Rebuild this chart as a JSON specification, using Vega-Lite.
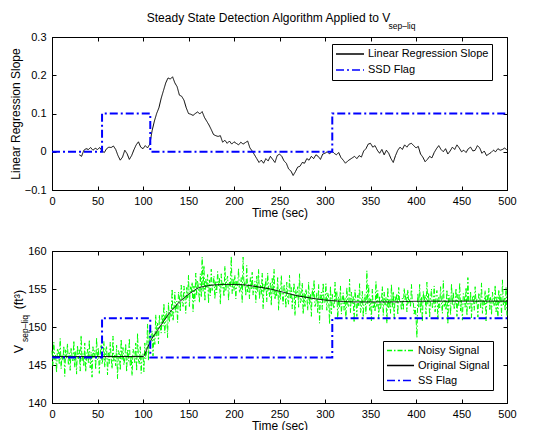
{
"$schema": "https://vega.github.io/schema/vega-lite/v6.json",
"background": "white",
"padding": {"left": 8, "top": 11, "right": 0, "bottom": 0},
"spacing": 25,
"resolve": {"scale": {"color": "independent", "strokeDash": "independent"}, "legend": {"color": "independent", "strokeDash": "independent"}},
"config": {
  "font": "Liberation Sans",
  "view": {"stroke": "black", "strokeWidth": 1},
  "axis": {"labelFont": "Liberation Sans", "labelFontSize": 11, "labelColor": "#000", "tickColor": "#000", "domainColor": "#000", "titleFont": "Liberation Sans", "titleFontSize": 12, "titleFontWeight": "normal", "titleColor": "#000", "grid": false, "tickWidth": 1, "domainWidth": 1},
  "legend": {"labelFont": "Liberation Sans", "labelFontSize": 11, "labelColor": "#000"}
},
"datasets": {
  "ssd": [{"t":0,"v":0},{"t":55,"v":0.1},{"t":108,"v":0},{"t":308,"v":0.1},{"t":500,"v":0.1}],
  "ssflag": [{"t":0,"v":146.0},{"t":55,"v":151.15},{"t":108,"v":146.0},{"t":308,"v":151.15},{"t":500,"v":151.15}],
  "orig": [{"t":0,"v":146.1},{"t":100,"v":146.1},{"t":105,"v":147.3},{"t":110,"v":148.5},{"t":115,"v":149.4},{"t":120,"v":150.3},{"t":125,"v":151.15},{"t":130,"v":152.0},{"t":135,"v":152.65},{"t":140,"v":153.3},{"t":145,"v":153.8},{"t":150,"v":154.3},{"t":155,"v":154.7},{"t":160,"v":155.1},{"t":170,"v":155.4},{"t":180,"v":155.55},{"t":190,"v":155.6},{"t":200,"v":155.6},{"t":210,"v":155.55},{"t":220,"v":155.4},{"t":230,"v":155.2},{"t":240,"v":155.0},{"t":250,"v":154.7},{"t":260,"v":154.4},{"t":270,"v":154.1},{"t":280,"v":153.9},{"t":290,"v":153.7},{"t":300,"v":153.55},{"t":310,"v":153.45},{"t":320,"v":153.35},{"t":340,"v":153.3},{"t":370,"v":153.3},{"t":400,"v":153.38},{"t":450,"v":153.4},{"t":500,"v":153.4}],
  "slope": [{"t":30,"v":-0.008},{"t":32.5,"v":-0.012},{"t":35,"v":0.004},{"t":37.5,"v":0.008},{"t":40,"v":0.006},{"t":42.5,"v":0.011},{"t":45,"v":0.004},{"t":47.5,"v":0.009},{"t":50,"v":0.006},{"t":52.5,"v":0.011},{"t":55,"v":0.002},{"t":57.5,"v":-0.002},{"t":60,"v":0.008},{"t":62.5,"v":0.012},{"t":65,"v":0.011},{"t":67.5,"v":0.015},{"t":70,"v":0.006},{"t":72.5,"v":-0.01},{"t":75,"v":-0.022},{"t":77.5,"v":-0.014},{"t":80,"v":0.004},{"t":82.5,"v":-0.005},{"t":85,"v":-0.02},{"t":87.5,"v":-0.01},{"t":90,"v":0.005},{"t":92.5,"v":0.018},{"t":95,"v":0.026},{"t":97.5,"v":0.012},{"t":100,"v":0.008},{"t":102.5,"v":0.016},{"t":105,"v":0.01},{"t":107.5,"v":0.02},{"t":110,"v":0.055},{"t":112.5,"v":0.08},{"t":115,"v":0.1},{"t":117.5,"v":0.115},{"t":120,"v":0.14},{"t":122.5,"v":0.16},{"t":125,"v":0.18},{"t":127.5,"v":0.193},{"t":130,"v":0.19},{"t":132.5,"v":0.196},{"t":135,"v":0.18},{"t":137.5,"v":0.17},{"t":140,"v":0.148},{"t":142.5,"v":0.145},{"t":145,"v":0.135},{"t":147.5,"v":0.115},{"t":150,"v":0.1},{"t":152.5,"v":0.098},{"t":155,"v":0.095},{"t":157.5,"v":0.1},{"t":160,"v":0.104},{"t":162.5,"v":0.099},{"t":165,"v":0.105},{"t":167.5,"v":0.09},{"t":170,"v":0.08},{"t":172.5,"v":0.07},{"t":175,"v":0.058},{"t":177.5,"v":0.045},{"t":180,"v":0.042},{"t":182.5,"v":0.04},{"t":185,"v":0.042},{"t":187.5,"v":0.025},{"t":190,"v":0.03},{"t":192.5,"v":0.022},{"t":195,"v":0.028},{"t":197.5,"v":0.02},{"t":200,"v":0.026},{"t":202.5,"v":0.022},{"t":205,"v":0.018},{"t":207.5,"v":0.025},{"t":210,"v":0.02},{"t":212.5,"v":0.024},{"t":215,"v":0.028},{"t":217.5,"v":0.01},{"t":220,"v":0.002},{"t":222.5,"v":-0.008},{"t":225,"v":-0.018},{"t":227.5,"v":-0.028},{"t":230,"v":-0.022},{"t":232.5,"v":-0.03},{"t":235,"v":-0.018},{"t":237.5,"v":-0.024},{"t":240,"v":-0.012},{"t":242.5,"v":-0.02},{"t":245,"v":-0.028},{"t":247.5,"v":-0.01},{"t":250,"v":-0.006},{"t":252.5,"v":-0.012},{"t":255,"v":-0.024},{"t":257.5,"v":-0.03},{"t":260,"v":-0.045},{"t":262.5,"v":-0.05},{"t":265,"v":-0.062},{"t":267.5,"v":-0.052},{"t":270,"v":-0.04},{"t":272.5,"v":-0.038},{"t":275,"v":-0.028},{"t":277.5,"v":-0.03},{"t":280,"v":-0.018},{"t":282.5,"v":-0.022},{"t":285,"v":-0.012},{"t":287.5,"v":-0.018},{"t":290,"v":-0.008},{"t":292.5,"v":-0.012},{"t":295,"v":-0.02},{"t":297.5,"v":-0.006},{"t":300,"v":-0.004},{"t":302.5,"v":0.0},{"t":305,"v":-0.006},{"t":307.5,"v":0.002},{"t":310,"v":-0.004},{"t":312.5,"v":-0.008},{"t":315,"v":-0.002},{"t":317.5,"v":-0.015},{"t":320,"v":-0.022},{"t":322.5,"v":-0.03},{"t":325,"v":-0.024},{"t":327.5,"v":-0.02},{"t":330,"v":-0.016},{"t":332.5,"v":-0.012},{"t":335,"v":-0.018},{"t":337.5,"v":-0.01},{"t":340,"v":-0.014},{"t":342.5,"v":0.002},{"t":345,"v":0.008},{"t":347.5,"v":0.02},{"t":350,"v":0.022},{"t":352.5,"v":0.012},{"t":355,"v":0.016},{"t":357.5,"v":0.004},{"t":360,"v":-0.004},{"t":362.5,"v":0.006},{"t":365,"v":-0.008},{"t":367.5,"v":0.004},{"t":370,"v":-0.004},{"t":372.5,"v":-0.018},{"t":375,"v":-0.028},{"t":377.5,"v":-0.01},{"t":380,"v":0.004},{"t":382.5,"v":0.012},{"t":385,"v":0.006},{"t":387.5,"v":0.018},{"t":390,"v":0.012},{"t":392.5,"v":0.02},{"t":395,"v":0.022},{"t":397.5,"v":0.016},{"t":400,"v":0.01},{"t":402.5,"v":0.014},{"t":405,"v":-0.006},{"t":407.5,"v":-0.014},{"t":410,"v":-0.026},{"t":412.5,"v":-0.02},{"t":415,"v":-0.012},{"t":417.5,"v":-0.016},{"t":420,"v":-0.002},{"t":422.5,"v":0.008},{"t":425,"v":0.016},{"t":427.5,"v":0.006},{"t":430,"v":0.0},{"t":432.5,"v":0.008},{"t":435,"v":-0.006},{"t":437.5,"v":0.002},{"t":440,"v":0.012},{"t":442.5,"v":0.006},{"t":445,"v":0.018},{"t":447.5,"v":0.01},{"t":450,"v":0.0},{"t":452.5,"v":0.004},{"t":455,"v":-0.002},{"t":457.5,"v":0.008},{"t":460,"v":0.012},{"t":462.5,"v":0.002},{"t":465,"v":0.004},{"t":467.5,"v":0.016},{"t":470,"v":0.01},{"t":472.5,"v":-0.004},{"t":475,"v":0.002},{"t":477.5,"v":-0.01},{"t":480,"v":-0.006},{"t":482.5,"v":-0.002},{"t":485,"v":0.004},{"t":487.5,"v":0.0},{"t":490,"v":0.008},{"t":492.5,"v":0.004},{"t":495,"v":0.006},{"t":497.5,"v":0.01},{"t":500,"v":0.004}],
  "noisy": [{"t":0,"v":146.9},{"t":1,"v":144.9},{"t":2,"v":148.0},{"t":3,"v":145.7},{"t":4,"v":146.4},{"t":5,"v":144.0},{"t":6,"v":147.2},{"t":7,"v":146.7},{"t":8,"v":145.2},{"t":9,"v":148.5},{"t":10,"v":144.5},{"t":11,"v":146.3},{"t":12,"v":145.6},{"t":13,"v":147.5},{"t":14,"v":143.5},{"t":15,"v":147.0},{"t":16,"v":145.9},{"t":17,"v":147.8},{"t":18,"v":145.0},{"t":19,"v":146.6},{"t":20,"v":144.3},{"t":21,"v":147.3},{"t":22,"v":146.2},{"t":23,"v":145.4},{"t":24,"v":148.2},{"t":25,"v":144.7},{"t":26,"v":146.8},{"t":27,"v":143.8},{"t":28,"v":147.6},{"t":29,"v":145.8},{"t":30,"v":147.0},{"t":31,"v":144.2},{"t":32,"v":148.9},{"t":33,"v":145.5},{"t":34,"v":146.5},{"t":35,"v":144.8},{"t":36,"v":147.9},{"t":37,"v":144.1},{"t":38,"v":146.1},{"t":39,"v":147.1},{"t":40,"v":145.3},{"t":41,"v":148.3},{"t":42,"v":144.6},{"t":43,"v":146.7},{"t":44,"v":143.4},{"t":45,"v":147.4},{"t":46,"v":146.0},{"t":47,"v":146.9},{"t":48,"v":144.4},{"t":49,"v":148.6},{"t":50,"v":145.7},{"t":51,"v":147.2},{"t":52,"v":143.9},{"t":53,"v":146.4},{"t":54,"v":147.7},{"t":55,"v":145.1},{"t":56,"v":145.8},{"t":57,"v":148.1},{"t":58,"v":144.7},{"t":59,"v":146.8},{"t":60,"v":147.5},{"t":61,"v":143.7},{"t":62,"v":146.6},{"t":63,"v":145.2},{"t":64,"v":148.0},{"t":65,"v":145.9},{"t":66,"v":144.5},{"t":67,"v":148.8},{"t":68,"v":145.4},{"t":69,"v":146.3},{"t":70,"v":144.9},{"t":71,"v":147.6},{"t":72,"v":143.2},{"t":73,"v":146.9},{"t":74,"v":146.5},{"t":75,"v":144.3},{"t":76,"v":148.4},{"t":77,"v":145.6},{"t":78,"v":147.3},{"t":79,"v":145.0},{"t":80,"v":145.9},{"t":81,"v":147.8},{"t":82,"v":144.1},{"t":83,"v":147.0},{"t":84,"v":145.5},{"t":85,"v":148.5},{"t":86,"v":144.8},{"t":87,"v":146.2},{"t":88,"v":143.6},{"t":89,"v":147.1},{"t":90,"v":146.7},{"t":91,"v":145.3},{"t":92,"v":147.9},{"t":93,"v":144.2},{"t":94,"v":149.2},{"t":95,"v":145.7},{"t":96,"v":145.1},{"t":97,"v":147.4},{"t":98,"v":143.9},{"t":99,"v":146.5},
{"t":100,"v":146.5},{"t":101,"v":144.1},{"t":102,"v":147.9},{"t":103,"v":145.8},{"t":104,"v":146.7},{"t":105,"v":150.4},{"t":106,"v":145.6},{"t":107,"v":149.6},{"t":108,"v":147.2},{"t":109,"v":148.9},{"t":110,"v":149.5},{"t":111,"v":146.2},{"t":112,"v":149.0},{"t":113,"v":147.7},{"t":114,"v":151.6},{"t":115,"v":148.8},{"t":116,"v":150.5},{"t":117,"v":147.8},{"t":118,"v":151.6},{"t":119,"v":149.9},{"t":120,"v":149.2},{"t":121,"v":151.7},{"t":122,"v":150.1},{"t":123,"v":153.1},{"t":124,"v":149.2},{"t":125,"v":151.6},{"t":126,"v":152.1},{"t":127,"v":148.6},{"t":128,"v":153.2},{"t":129,"v":150.6},{"t":130,"v":152.2},{"t":131,"v":151.4},{"t":132,"v":155.0},{"t":133,"v":150.8},{"t":134,"v":152.3},{"t":135,"v":154.6},{"t":136,"v":151.9},{"t":137,"v":153.4},{"t":138,"v":150.6},{"t":139,"v":154.6},{"t":140,"v":154.0},{"t":141,"v":152.0},{"t":142,"v":155.5},{"t":143,"v":153.3},{"t":144,"v":152.7},{"t":145,"v":155.4},{"t":146,"v":154.2},{"t":147,"v":151.8},{"t":148,"v":155.2},{"t":149,"v":153.8},{"t":150,"v":156.8},{"t":151,"v":152.7},{"t":152,"v":155.3},{"t":153,"v":154.4},{"t":154,"v":155.9},{"t":155,"v":152.0},{"t":156,"v":155.4},{"t":157,"v":153.4},{"t":158,"v":157.1},{"t":159,"v":154.2},{"t":160,"v":156.1},{"t":161,"v":155.1},{"t":162,"v":153.2},{"t":163,"v":157.0},{"t":164,"v":153.9},{"t":165,"v":159.2},{"t":166,"v":154.7},{"t":167,"v":158.1},{"t":168,"v":153.4},{"t":169,"v":156.3},{"t":170,"v":155.1},{"t":171,"v":156.9},{"t":172,"v":153.1},{"t":173,"v":156.2},{"t":174,"v":154.1},{"t":175,"v":157.6},{"t":176,"v":154.8},{"t":177,"v":155.6},{"t":178,"v":156.7},{"t":179,"v":153.7},{"t":180,"v":156.1},{"t":181,"v":154.5},{"t":182,"v":157.3},{"t":183,"v":155.4},{"t":184,"v":156.5},{"t":185,"v":153.0},{"t":186,"v":157.0},{"t":187,"v":155.1},{"t":188,"v":155.8},{"t":189,"v":154.0},{"t":190,"v":158.0},{"t":191,"v":154.7},{"t":192,"v":156.2},{"t":193,"v":156.7},{"t":194,"v":153.5},{"t":195,"v":155.9},{"t":196,"v":155.2},{"t":197,"v":159.3},{"t":198,"v":154.4},{"t":199,"v":156.4},
{"t":200,"v":154.8},{"t":201,"v":156.8},{"t":202,"v":153.7},{"t":203,"v":156.0},{"t":204,"v":155.3},{"t":205,"v":157.7},{"t":206,"v":154.5},{"t":207,"v":155.0},{"t":208,"v":156.5},{"t":209,"v":153.2},{"t":210,"v":159.2},{"t":211,"v":155.3},{"t":212,"v":156.0},{"t":213,"v":154.1},{"t":214,"v":158.1},{"t":215,"v":154.6},{"t":216,"v":155.6},{"t":217,"v":153.7},{"t":218,"v":156.5},{"t":219,"v":154.9},{"t":220,"v":157.2},{"t":221,"v":154.2},{"t":222,"v":155.3},{"t":223,"v":156.0},{"t":224,"v":153.2},{"t":225,"v":156.7},{"t":226,"v":154.6},{"t":227,"v":157.6},{"t":228,"v":153.7},{"t":229,"v":155.5},{"t":230,"v":154.3},{"t":231,"v":157.1},{"t":232,"v":152.4},{"t":233,"v":155.7},{"t":234,"v":154.7},{"t":235,"v":156.4},{"t":236,"v":153.3},{"t":237,"v":157.1},{"t":238,"v":155.0},{"t":239,"v":154.0},{"t":240,"v":155.8},{"t":241,"v":152.8},{"t":242,"v":156.4},{"t":243,"v":154.3},{"t":244,"v":157.6},{"t":245,"v":153.6},{"t":246,"v":154.9},{"t":247,"v":154.0},{"t":248,"v":156.5},{"t":249,"v":152.2},{"t":250,"v":155.1},{"t":251,"v":153.6},{"t":252,"v":156.8},{"t":253,"v":154.3},{"t":254,"v":153.0},{"t":255,"v":155.6},{"t":256,"v":154.8},{"t":257,"v":152.5},{"t":258,"v":155.9},{"t":259,"v":153.7},{"t":260,"v":153.0},{"t":261,"v":156.8},{"t":262,"v":153.8},{"t":263,"v":155.2},{"t":264,"v":152.4},{"t":265,"v":154.5},{"t":266,"v":155.8},{"t":267,"v":151.5},{"t":268,"v":154.9},{"t":269,"v":153.9},{"t":270,"v":155.3},{"t":271,"v":152.6},{"t":272,"v":157.0},{"t":273,"v":153.2},{"t":274,"v":153.6},{"t":275,"v":155.8},{"t":276,"v":151.7},{"t":277,"v":154.5},{"t":278,"v":152.7},{"t":279,"v":155.0},{"t":280,"v":154.1},{"t":281,"v":152.2},{"t":282,"v":155.9},{"t":283,"v":152.9},{"t":284,"v":154.4},{"t":285,"v":151.4},{"t":286,"v":155.1},{"t":287,"v":153.7},{"t":288,"v":156.2},{"t":289,"v":152.7},{"t":290,"v":153.1},{"t":291,"v":154.5},{"t":292,"v":151.9},{"t":293,"v":155.6},{"t":294,"v":150.5},{"t":295,"v":154.0},{"t":296,"v":154.6},{"t":297,"v":152.3},{"t":298,"v":155.8},{"t":299,"v":153.2},
{"t":300,"v":153.1},{"t":301,"v":155.7},{"t":302,"v":152.2},{"t":303,"v":154.5},{"t":304,"v":153.9},{"t":305,"v":150.4},{"t":306,"v":155.4},{"t":307,"v":151.7},{"t":308,"v":154.3},{"t":309,"v":152.9},{"t":310,"v":152.4},{"t":311,"v":155.9},{"t":312,"v":153.3},{"t":313,"v":154.7},{"t":314,"v":151.0},{"t":315,"v":154.0},{"t":316,"v":152.5},{"t":317,"v":155.4},{"t":318,"v":151.7},{"t":319,"v":153.6},{"t":320,"v":154.5},{"t":321,"v":152.2},{"t":322,"v":153.9},{"t":323,"v":151.1},{"t":324,"v":155.2},{"t":325,"v":153.0},{"t":326,"v":152.6},{"t":327,"v":156.3},{"t":328,"v":151.9},{"t":329,"v":154.6},{"t":330,"v":153.1},{"t":331,"v":154.0},{"t":332,"v":150.6},{"t":333,"v":154.9},{"t":334,"v":153.5},{"t":335,"v":151.4},{"t":336,"v":154.2},{"t":337,"v":152.8},{"t":338,"v":155.7},{"t":339,"v":151.9},{"t":340,"v":152.6},{"t":341,"v":154.7},{"t":342,"v":151.3},{"t":343,"v":153.6},{"t":344,"v":154.3},{"t":345,"v":151.7},{"t":346,"v":157.4},{"t":347,"v":153.0},{"t":348,"v":155.5},{"t":349,"v":152.2},{"t":350,"v":153.7},{"t":351,"v":150.8},{"t":352,"v":155.0},{"t":353,"v":152.5},{"t":354,"v":153.4},{"t":355,"v":152.0},{"t":356,"v":156.0},{"t":357,"v":152.7},{"t":358,"v":154.8},{"t":359,"v":151.1},{"t":360,"v":154.1},{"t":361,"v":152.3},{"t":362,"v":153.3},{"t":363,"v":155.3},{"t":364,"v":151.5},{"t":365,"v":154.6},{"t":366,"v":152.9},{"t":367,"v":153.9},{"t":368,"v":150.5},{"t":369,"v":155.2},{"t":370,"v":152.4},{"t":371,"v":153.6},{"t":372,"v":151.8},{"t":373,"v":155.6},{"t":374,"v":152.6},{"t":375,"v":154.7},{"t":376,"v":151.2},{"t":377,"v":154.0},{"t":378,"v":153.2},{"t":379,"v":154.4},{"t":380,"v":151.6},{"t":381,"v":155.2},{"t":382,"v":153.3},{"t":383,"v":153.4},{"t":384,"v":152.2},{"t":385,"v":153.8},{"t":386,"v":152.2},{"t":387,"v":155.1},{"t":388,"v":153.6},{"t":389,"v":154.4},{"t":390,"v":152.0},{"t":391,"v":154.9},{"t":392,"v":153.1},{"t":393,"v":153.6},{"t":394,"v":152.6},{"t":395,"v":155.6},{"t":396,"v":153.1},{"t":397,"v":153.2},{"t":398,"v":151.7},{"t":399,"v":152.6},
{"t":400,"v":151.4},{"t":401,"v":148.6},{"t":402,"v":154.4},{"t":403,"v":152.6},{"t":404,"v":155.6},{"t":405,"v":151.9},{"t":406,"v":154.0},{"t":407,"v":150.7},{"t":408,"v":154.7},{"t":409,"v":153.3},{"t":410,"v":154.2},{"t":411,"v":151.7},{"t":412,"v":155.9},{"t":413,"v":153.0},{"t":414,"v":154.5},{"t":415,"v":151.2},{"t":416,"v":153.7},{"t":417,"v":155.0},{"t":418,"v":152.4},{"t":419,"v":153.1},{"t":420,"v":155.4},{"t":421,"v":152.0},{"t":422,"v":154.1},{"t":423,"v":154.8},{"t":424,"v":151.0},{"t":425,"v":153.9},{"t":426,"v":152.5},{"t":427,"v":155.3},{"t":428,"v":153.2},{"t":429,"v":151.8},{"t":430,"v":156.1},{"t":431,"v":152.7},{"t":432,"v":153.6},{"t":433,"v":152.2},{"t":434,"v":154.9},{"t":435,"v":150.5},{"t":436,"v":154.2},{"t":437,"v":153.8},{"t":438,"v":151.6},{"t":439,"v":155.7},{"t":440,"v":152.9},{"t":441,"v":154.6},{"t":442,"v":152.3},{"t":443,"v":153.2},{"t":444,"v":155.1},{"t":445,"v":151.4},{"t":446,"v":154.3},{"t":447,"v":152.8},{"t":448,"v":155.8},{"t":449,"v":152.1},{"t":450,"v":153.5},{"t":451,"v":150.9},{"t":452,"v":154.4},{"t":453,"v":154.0},{"t":454,"v":152.6},{"t":455,"v":155.2},{"t":456,"v":151.5},{"t":457,"v":156.5},{"t":458,"v":153.0},{"t":459,"v":152.4},{"t":460,"v":154.7},{"t":461,"v":151.2},{"t":462,"v":153.8},{"t":463,"v":154.2},{"t":464,"v":152.2},{"t":465,"v":155.3},{"t":466,"v":153.0},{"t":467,"v":153.7},{"t":468,"v":151.3},{"t":469,"v":154.5},{"t":470,"v":154.0},{"t":471,"v":152.5},{"t":472,"v":155.8},{"t":473,"v":151.8},{"t":474,"v":153.6},{"t":475,"v":152.9},{"t":476,"v":154.8},{"t":477,"v":150.8},{"t":478,"v":154.3},{"t":479,"v":153.2},{"t":480,"v":155.1},{"t":481,"v":152.3},{"t":482,"v":153.9},{"t":483,"v":151.6},{"t":484,"v":154.6},{"t":485,"v":153.5},{"t":486,"v":152.7},{"t":487,"v":155.5},{"t":488,"v":152.0},{"t":489,"v":154.1},{"t":490,"v":151.1},{"t":491,"v":154.9},{"t":492,"v":153.1},{"t":493,"v":154.3},{"t":494,"v":151.5},{"t":495,"v":156.2},{"t":496,"v":152.8},{"t":497,"v":153.8},{"t":498,"v":152.1},{"t":499,"v":155.2},{"t":500,"v":151.4}]
},
"vconcat": [
{
  "width": 455, "height": 153,
  "title": {"text": "Steady State Detection Algorithm Applied to V", "frame": "group", "anchor": "middle", "dx": -11, "fontSize": 12, "fontWeight": "normal", "font": "Liberation Sans", "color": "black", "offset": -3},
  "resolve": {"axis": {"x": "independent", "y": "independent"}},
  "layer": [
    {"data": {"name": "slope"}, "mark": {"type": "line", "strokeWidth": 1},
     "encoding": {
       "x": {"field": "t", "type": "quantitative", "scale": {"domain": [0, 500], "nice": false}, "axis": {"orient": "bottom", "values": [0,50,100,150,200,250,300,350,400,450,500], "title": "Time (sec)", "tickSize": -4, "labelPadding": 9, "titlePadding": 1, "labelFlush": false, "labelOverlap": false}},
       "y": {"field": "v", "type": "quantitative", "scale": {"domain": [-0.1, 0.3], "nice": false}, "axis": {"orient": "left", "values": [-0.1,0,0.1,0.2,0.3], "format": "~g", "title": "Linear Regression Slope", "tickSize": -4, "labelPadding": 10, "titlePadding": 2}},
       "color": {"datum": "Linear Regression Slope", "scale": {"domain": ["Linear Regression Slope", "SSD Flag"], "range": ["#000000", "#0000ff"]},
         "legend": {"title": null, "orient": "none", "legendX": 280, "legendY": 7, "symbolType": "stroke", "symbolSize": 784, "clipHeight": 14, "rowPadding": 2, "padding": 3, "labelOffset": 3, "symbolStrokeWidth": 1.5, "strokeColor": "black", "fillColor": "white", "labelFontSize": 11}},
       "strokeDash": {"datum": "Linear Regression Slope", "scale": {"domain": ["Linear Regression Slope", "SSD Flag"], "range": [[1, 0], [8, 3, 2, 3]]}}
     }},
    {"data": {"name": "ssd"}, "mark": {"type": "line", "strokeWidth": 2, "interpolate": "step-after"},
     "encoding": {
       "x": {"field": "t", "type": "quantitative", "scale": {"domain": [0, 500], "nice": false}, "axis": {"orient": "top", "values": [0,50,100,150,200,250,300,350,400,450,500], "labels": false, "title": null, "tickSize": -4, "domain": false, "minExtent": 0, "maxExtent": 0}},
       "y": {"field": "v", "type": "quantitative", "scale": {"domain": [-0.1, 0.3], "nice": false}, "axis": {"orient": "right", "values": [-0.1,0,0.1,0.2,0.3], "labels": false, "title": null, "tickSize": -4, "domain": false, "minExtent": 0, "maxExtent": 0}},
       "color": {"datum": "SSD Flag"},
       "strokeDash": {"datum": "SSD Flag"}
     }},
    {"data": {"values": [{"label": "sep–liq"}]}, "mark": {"type": "text", "fontSize": 8.5, "align": "center", "baseline": "middle", "color": "black", "font": "Liberation Sans"},
     "encoding": {
       "x": {"datum": 384.6, "type": "quantitative", "scale": {"domain": [0, 500], "nice": false}, "axis": null},
       "y": {"datum": 0.3288, "type": "quantitative", "scale": {"domain": [-0.1, 0.3], "nice": false}, "axis": null},
       "text": {"field": "label"}
     }}
  ]
},
{
  "width": 455, "height": 152,
  "resolve": {"axis": {"x": "independent", "y": "independent"}},
  "layer": [
    {"data": {"name": "noisy"}, "mark": {"type": "line", "strokeWidth": 1},
     "encoding": {
       "x": {"field": "t", "type": "quantitative", "scale": {"domain": [0, 500], "nice": false}, "axis": {"orient": "bottom", "values": [0,50,100,150,200,250,300,350,400,450,500], "title": "Time (sec)", "tickSize": -4, "labelPadding": 9, "titlePadding": 1, "labelFlush": false, "labelOverlap": false}},
       "y": {"field": "v", "type": "quantitative", "scale": {"domain": [140, 160], "nice": false}, "axis": {"orient": "left", "values": [140,145,150,155,160], "title": null, "tickSize": -4, "labelPadding": 10}},
       "color": {"datum": "Noisy Signal", "scale": {"domain": ["Noisy Signal", "Original Signal", "SS Flag"], "range": ["#00ff00", "#000000", "#0000ff"]},
         "legend": {"title": null, "orient": "none", "legendX": 331, "legendY": 90, "symbolType": "stroke", "symbolSize": 729, "clipHeight": 13, "rowPadding": 2, "padding": 3, "labelOffset": 3, "symbolStrokeWidth": 1.5, "strokeColor": "black", "fillColor": "white", "labelFontSize": 11}},
       "strokeDash": {"datum": "Noisy Signal", "scale": {"domain": ["Noisy Signal", "Original Signal", "SS Flag"], "range": [[5, 2, 1.5, 2], [1, 0], [8, 3, 2, 3]]}}
     }},
    {"data": {"name": "orig"}, "mark": {"type": "line", "strokeWidth": 1, "interpolate": "monotone"},
     "encoding": {
       "x": {"field": "t", "type": "quantitative", "scale": {"domain": [0, 500], "nice": false}, "axis": null},
       "y": {"field": "v", "type": "quantitative", "scale": {"domain": [140, 160], "nice": false}, "axis": null},
       "color": {"datum": "Original Signal"},
       "strokeDash": {"datum": "Original Signal"}
     }},
    {"data": {"name": "ssflag"}, "mark": {"type": "line", "strokeWidth": 2, "interpolate": "step-after"},
     "encoding": {
       "x": {"field": "t", "type": "quantitative", "scale": {"domain": [0, 500], "nice": false}, "axis": {"orient": "top", "values": [0,50,100,150,200,250,300,350,400,450,500], "labels": false, "title": null, "tickSize": -4, "domain": false, "minExtent": 0, "maxExtent": 0}},
       "y": {"field": "v", "type": "quantitative", "scale": {"domain": [140, 160], "nice": false}, "axis": {"orient": "right", "values": [140,145,150,155,160], "labels": false, "title": null, "tickSize": -4, "domain": false, "minExtent": 0, "maxExtent": 0}},
       "color": {"datum": "SS Flag"},
       "strokeDash": {"datum": "SS Flag"}
     }},
    {"data": {"values": [{"label": "V"}]}, "mark": {"type": "text", "angle": 270, "fontSize": 12.5, "align": "center", "baseline": "middle", "color": "black", "font": "Liberation Sans"},
     "encoding": {
       "x": {"datum": -36.3, "type": "quantitative", "scale": {"domain": [0, 500], "nice": false}, "axis": null},
       "y": {"datum": 147.1, "type": "quantitative", "scale": {"domain": [140, 160], "nice": false}, "axis": null},
       "text": {"field": "label"}
     }},
    {"data": {"values": [{"label": "sep–liq"}]}, "mark": {"type": "text", "angle": 270, "fontSize": 8.5, "align": "center", "baseline": "middle", "color": "black", "font": "Liberation Sans"},
     "encoding": {
       "x": {"datum": -29.7, "type": "quantitative", "scale": {"domain": [0, 500], "nice": false}, "axis": null},
       "y": {"datum": 149.8, "type": "quantitative", "scale": {"domain": [140, 160], "nice": false}, "axis": null},
       "text": {"field": "label"}
     }},
    {"data": {"values": [{"label": "(ft³)"}]}, "mark": {"type": "text", "angle": 270, "fontSize": 12.5, "align": "center", "baseline": "middle", "color": "black", "font": "Liberation Sans"},
     "encoding": {
       "x": {"datum": -36.3, "type": "quantitative", "scale": {"domain": [0, 500], "nice": false}, "axis": null},
       "y": {"datum": 153.6, "type": "quantitative", "scale": {"domain": [140, 160], "nice": false}, "axis": null},
       "text": {"field": "label"}
     }}
  ]
}
]
}
